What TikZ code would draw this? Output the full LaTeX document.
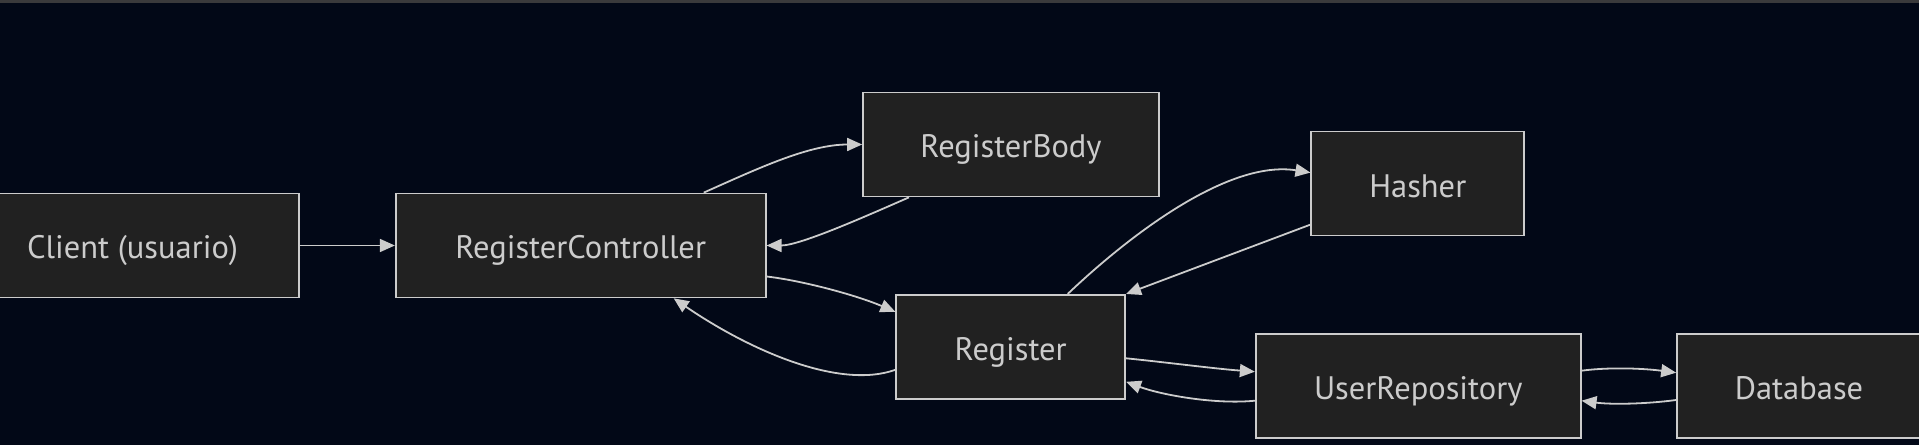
\documentclass[tikz,border=0pt]{standalone}
\usepackage{fontspec}
\setmainfont{PT Sans}
\usetikzlibrary{arrows.meta}
\definecolor{bgnavy}{RGB}{2,8,23}
\definecolor{boxgray}{RGB}{33,33,33}
\definecolor{linegray}{RGB}{204,204,204}
\definecolor{topgray}{RGB}{58,58,60}

\begin{document}
\begin{tikzpicture}[x=1pt, y=1pt,
	every node/.style={font=\fontsize{32.5}{38}\selectfont, text=linegray},
	block/.style={draw=linegray, fill=boxgray, line width=1.7pt, minimum height=104pt, inner sep=0pt, text height=27pt, text depth=0pt},
	flow/.style={draw=linegray, line width=1.8pt, -{Triangle[length=15pt, width=13pt]}}]
	\fill[bgnavy] (0,0) rectangle (1919,445);
	\fill[topgray] (0,442) rectangle (1919,445);
	\useasboundingbox (0,0) rectangle (1919,445);
	\node[block, minimum width=333pt] (client) at (132.5,199.5) {Client (usuario)};
	\node[block, minimum width=370pt] (ctrl) at (580.7,199.5) {RegisterController};
	\node[block, minimum width=296pt] (body) at (1011,300.5) {RegisterBody};
	\node[block, minimum width=213pt] (hasher) at (1417.8,261.4) {Hasher};
	\node[block, minimum width=229pt] (reg) at (1010.7,98.2) {Register};
	\node[block, minimum width=325pt] (repo) at (1418.2,59) {UserRepository};
	\node[block, minimum width=244pt] (db) at (1799,59) {Database};
	\draw[flow] (client) -- (ctrl);
	\draw[flow] ([xshift=123pt]ctrl.north) .. controls +(56,25) and +(-53,0) .. (body.west);
	\draw[flow] ([xshift=-102pt]body.south) .. controls +(-39,-17) and +(34,0) .. (ctrl.east);
	\draw[flow] ([yshift=-31pt]ctrl.east) .. controls +(35,-4) and +(-40,17) .. ([yshift=35pt]reg.west);
	\draw[flow] ([yshift=-23pt]reg.west) .. controls +(-56,-20) and +(76,-52) .. ([xshift=93pt]ctrl.south);
	\draw[flow] ([xshift=57pt]reg.north) .. controls +(62,59) and +(-82,13) .. ([yshift=11pt]hasher.west);
	\draw[flow] ([yshift=-41pt]hasher.west) -- (reg.north east);
	\draw[flow] ([yshift=-11.5pt]reg.east) .. controls +(40,-4) and +(-40,3) .. ([yshift=14.3pt]repo.west);
	\draw[flow] ([yshift=-14.7pt]repo.west) .. controls +(-40,-4) and +(35,-13) .. ([yshift=-35pt]reg.east);
	\draw[flow] ([yshift=15.3pt]repo.east) .. controls +(30,4) and +(-30,4) .. ([yshift=13.3pt]db.west);
	\draw[flow] ([yshift=-14pt]db.west) .. controls +(-30,-4) and +(30,-4) .. ([yshift=-14.7pt]repo.east);
\end{tikzpicture}
\end{document}
